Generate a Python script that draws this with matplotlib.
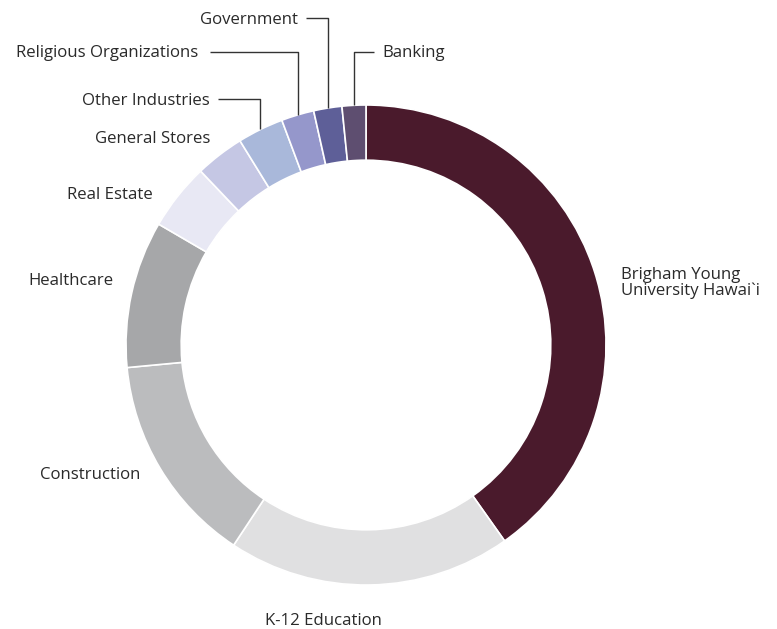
import numpy as np
import matplotlib
matplotlib.use("Agg")
import matplotlib.pyplot as plt

categories = ["Brigham Young\nUniversity Hawai`i", "K-12 Education", "Construction", "Healthcare",
              "Real Estate", "General Stores", "Other Industries", "Religious Organizations",
              "Government", "Banking"]
values = [40.2, 19.1, 14.2, 9.9, 4.5, 3.3, 3.1, 2.2, 1.9, 1.6]
colors = ["#4A1A2C", "#E0E0E1", "#BBBCBE", "#A6A7A9", "#E8E8F4", "#C5C7E4",
          "#A9B8DA", "#9597CB", "#5E5F98", "#5E4E70"]

W, H = 777, 629
CX, CY, R = 366, 345, 240
TXT_DY = 1.8  # small vertical nudge for text

fig = plt.figure(figsize=(W / 100, H / 100), dpi=100)
ax = fig.add_axes([0, 0, 1, 1])

def px(x, y):
    return ((x - CX) / R, (CY - y) / R)

wedges, _ = ax.pie(values, colors=colors, startangle=90, counterclock=False,
                   radius=1.0, center=(0, 0), frame=True,
                   wedgeprops=dict(width=0.23, edgecolor="white", linewidth=1.2))
ax.set_xlim(-CX / R, (W - CX) / R)
ax.set_ylim(-(H - CY) / R, CY / R)
ax.set_aspect("equal")
ax.axis("off")

tc = "#2a2a2a"
font = dict(family=["Open Sans", "DejaVu Sans"], fontsize=12.1, color=tc)

# labels without leader lines: (index, pixel x, pixel y, ha)
plain = [(0, 621, 281, "left"), (1, 323, 619, "center"), (2, 140, 473, "right"),
         (3, 113, 279, "right"), (4, 153, 193, "right"), (5, 210, 137, "right")]
for i, x, y, ha in plain:
    tx, ty = px(x, y + TXT_DY)
    ax.text(tx, ty, categories[i], ha=ha, va="center", linespacing=1.0, **font)

# labels with leader lines: (index, label y, text x, text ha, line end x)
leader = [(6, 99, 210, "right", 218), (7, 51.5, 198, "right", 210),
          (8, 18, 298, "right", 306), (9, 51.5, 382, "left", 374)]
for i, ly, tx_, ha, lx in leader:
    w = wedges[i]
    mid = np.deg2rad((w.theta1 + w.theta2) / 2)
    sx, sy = np.cos(mid) * 1.0, np.sin(mid) * 1.0
    _, yl = px(0, ly)
    xe, _ = px(lx, 0)
    ax.plot([sx, sx, xe], [sy, yl, yl], color="#333333", lw=1.0, solid_capstyle="butt")
    tx, ty = px(tx_, ly + TXT_DY)
    ax.text(tx, ty, categories[i], ha=ha, va="center", **font)

fig.savefig("out.png", dpi=100)
